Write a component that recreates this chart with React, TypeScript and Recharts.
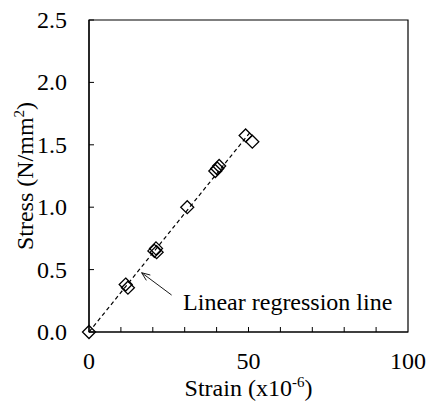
import React from 'react';
import { ScatterChart, Scatter, XAxis, YAxis, ReferenceLine, ReferenceArea } from 'recharts';

const strainValues = [0, 11.5, 12.2, 20.5, 21.0, 21.2, 30.8, 39.6, 40.2, 40.8, 49.1, 51.2];
const stressValues = [0, 0.38, 0.355, 0.65, 0.67, 0.64, 1.0, 1.29, 1.31, 1.33, 1.575, 1.525];
const xTicks = [0, 10, 20, 30, 40, 50, 60, 70, 80, 90, 100];
const xLabelTicks = [0, 50, 100];
const yTicks = [0, 0.5, 1.0, 1.5, 2.0, 2.5];
const regressionLine = [{ x: 0, y: 0 }, { x: 50.5, y: 1.6 }];
const arrowSegment = [{ x: 25.9, y: 0.296 }, { x: 16.5, y: 0.475 }];
const annotationText = 'Linear regression line';

const points = strainValues.map((x, i) => ({ x, y: stressValues[i] }));

const FONT = '"Liberation Serif", "Times New Roman", serif';
const FS = 24;
const TICK_MARGIN = 22;
const TICK_LEN = 5;

const Diamond = (props: any) => {
  const { cx, cy } = props;
  const h = 6.5;
  return (
    <path
      d={`M${cx},${cy - h}L${cx + h},${cy}L${cx},${cy + h}L${cx - h},${cy}Z`}
      fill="none"
      stroke="#000"
      strokeWidth={1.3}
    />
  );
};

const YTick = (props: any) => {
  const { x, y, payload } = props;
  const ax = x + TICK_MARGIN;
  return (
    <g>
      <line x1={ax} y1={y} x2={ax + TICK_LEN} y2={y} stroke="#000" strokeWidth={1} />
      <text x={x} y={y} dy={8} textAnchor="end" fontFamily={FONT} fontSize={FS} fill="#000">
        {Number(payload.value).toFixed(1)}
      </text>
    </g>
  );
};

const XTick = (props: any) => {
  const { x, y, payload } = props;
  const ay = y - 20;
  const v = payload.value;
  return (
    <g>
      {v !== 0 && v !== 100 && (
        <line x1={x} y1={ay} x2={x} y2={ay - TICK_LEN} stroke="#000" strokeWidth={1} />
      )}
      {xLabelTicks.includes(v) && (
        <text x={x} y={y} dy={17} textAnchor="middle" fontFamily={FONT} fontSize={FS} fill="#000">
          {v}
        </text>
      )}
    </g>
  );
};

const XTitle = (props: any) => {
  const vb = props.viewBox || {};
  const cx = vb.x + vb.width / 2;
  return (
    <text x={cx} y={396} textAnchor="middle" fontFamily={FONT} fontSize={FS} fill="#000">
      Strain (x10
      <tspan dy={-9} fontSize={15}>-6</tspan>
      <tspan dy={9}>)</tspan>
    </text>
  );
};

const YTitle = (props: any) => {
  const vb = props.viewBox || {};
  const cy = vb.y + vb.height / 2;
  return (
    <text
      x={33}
      y={cy}
      transform={`rotate(-90, 33, ${cy})`}
      textAnchor="middle"
      fontFamily={FONT}
      fontSize={FS}
      fill="#000"
    >
      Stress (N/mm
      <tspan dy={-9} fontSize={15}>2</tspan>
      <tspan dy={9}>)</tspan>
    </text>
  );
};

const ArrowShape = (props: any) => {
  const { x1, y1, x2, y2 } = props;
  const ang = Math.atan2(y2 - y1, x2 - x1);
  const len = 9;
  const spread = 0.38;
  const ax = x2 - len * Math.cos(ang - spread);
  const ay = y2 - len * Math.sin(ang - spread);
  const bx = x2 - len * Math.cos(ang + spread);
  const by = y2 - len * Math.sin(ang + spread);
  return (
    <g>
      <line x1={x1} y1={y1} x2={x2} y2={y2} stroke="#000" strokeWidth={0.9} />
      <polyline points={`${ax},${ay} ${x2},${y2} ${bx},${by}`} fill="none" stroke="#000" strokeWidth={0.9} />
      <text x={x1 + 11.5} y={y1 + 15} fontFamily={FONT} fontSize={FS} fill="#000">
        {annotationText}
      </text>
    </g>
  );
};

export default function App() {
  return (
    <div style={{ position: 'absolute', left: 0, top: 0, width: 428, height: 403, background: '#fff' }}>
      <ScatterChart width={428} height={403} margin={{ top: 20, right: 20, left: 0, bottom: 0 }}>
        <XAxis
          type="number"
          dataKey="x"
          domain={[0, 100]}
          ticks={xTicks}
          interval={0}
          height={71}
          tickSize={0}
          tickMargin={20}
          tick={<XTick />}
          axisLine={{ stroke: '#000', strokeWidth: 1.2 }}
          label={<XTitle />}
        />
        <YAxis
          type="number"
          dataKey="y"
          domain={[0, 2.5]}
          ticks={yTicks}
          interval={0}
          width={89}
          tickSize={0}
          tickMargin={TICK_MARGIN}
          tick={<YTick />}
          axisLine={{ stroke: '#000', strokeWidth: 1.2 }}
          label={<YTitle />}
        />
        <ReferenceArea x1={0} x2={100} y1={0} y2={2.5} fill="none" stroke="#000" strokeWidth={1.2} />
        <ReferenceLine
          segment={regressionLine}
          stroke="#000"
          strokeWidth={1.2}
          strokeDasharray="4 3"
        />
        <ReferenceLine segment={arrowSegment} stroke="#000" shape={(p: any) => <ArrowShape {...p} />} />
        <Scatter data={points} shape={<Diamond />} isAnimationActive={false} />
      </ScatterChart>
    </div>
  );
}
